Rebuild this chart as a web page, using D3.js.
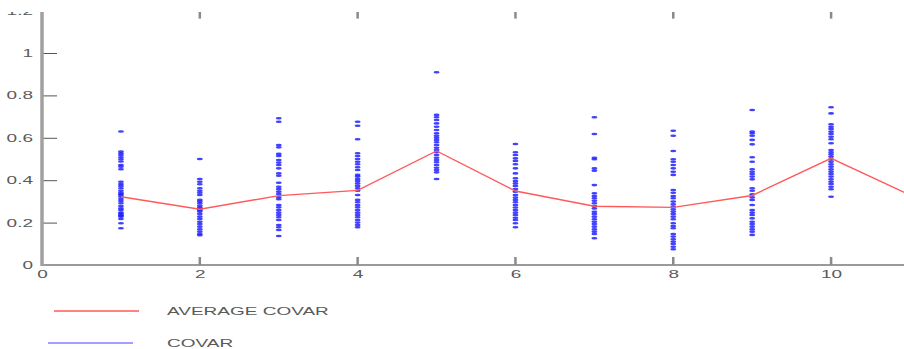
<!DOCTYPE html>
<html>
<head>
<meta charset="utf-8">
<script src="https://cdn.jsdelivr.net/npm/d3@7"></script>
<style>
  html, body { margin: 0; padding: 0; background: #fff; overflow: hidden; }
  text { font-family: "Liberation Sans", Arial, sans-serif; font-size: 10px; fill: #5a5a5a; }
</style>
</head>
<body>
<script>
// x positions and the average line
const avgX = [1, 2, 3, 4, 5, 6, 7, 8, 9, 10, 11];
const avgValues = [0.322, 0.263, 0.327, 0.352, 0.538, 0.349, 0.277, 0.272, 0.328, 0.503, 0.33];

// individual covar samples for each x
const covar1 = [0.63, 0.535, 0.527, 0.519, 0.508, 0.499, 0.488, 0.472, 0.464, 0.452, 0.393, 0.382, 0.373, 0.362, 0.35, 0.341, 0.335, 0.322, 0.311, 0.302, 0.291, 0.278, 0.267, 0.259, 0.247, 0.236, 0.228, 0.217, 0.197, 0.173, 0.243, 0.232, 0.33];
const covar2 = [0.5, 0.406, 0.393, 0.381, 0.362, 0.35, 0.341, 0.33, 0.307, 0.299, 0.291, 0.28, 0.271, 0.263, 0.252, 0.241, 0.228, 0.217, 0.204, 0.193, 0.181, 0.168, 0.157, 0.146, 0.14, 0.265, 0.258];
const covar3 = [0.692, 0.676, 0.566, 0.555, 0.524, 0.514, 0.495, 0.483, 0.472, 0.456, 0.432, 0.421, 0.388, 0.369, 0.358, 0.346, 0.335, 0.319, 0.31, 0.283, 0.272, 0.259, 0.247, 0.236, 0.225, 0.212, 0.189, 0.178, 0.165, 0.137];
const covar4 = [0.676, 0.657, 0.593, 0.527, 0.514, 0.5, 0.487, 0.475, 0.461, 0.448, 0.425, 0.417, 0.406, 0.396, 0.385, 0.373, 0.362, 0.35, 0.33, 0.307, 0.296, 0.283, 0.272, 0.259, 0.247, 0.236, 0.225, 0.212, 0.2, 0.189, 0.178];
const covar5 = [0.909, 0.708, 0.697, 0.684, 0.668, 0.652, 0.637, 0.621, 0.61, 0.6, 0.59, 0.579, 0.566, 0.553, 0.542, 0.532, 0.519, 0.506, 0.495, 0.485, 0.472, 0.459, 0.448, 0.437, 0.406];
const covar6 = [0.571, 0.532, 0.519, 0.503, 0.491, 0.475, 0.456, 0.432, 0.409, 0.396, 0.385, 0.373, 0.358, 0.346, 0.33, 0.318, 0.307, 0.296, 0.283, 0.271, 0.259, 0.247, 0.236, 0.223, 0.212, 0.197, 0.178];
const covar7 = [0.697, 0.618, 0.506, 0.499, 0.456, 0.445, 0.377, 0.338, 0.325, 0.315, 0.303, 0.291, 0.278, 0.267, 0.251, 0.241, 0.228, 0.216, 0.204, 0.193, 0.181, 0.168, 0.157, 0.146, 0.126];
const covar8 = [0.633, 0.61, 0.538, 0.499, 0.487, 0.472, 0.456, 0.44, 0.425, 0.354, 0.341, 0.325, 0.315, 0.299, 0.286, 0.275, 0.263, 0.252, 0.241, 0.228, 0.216, 0.197, 0.184, 0.173, 0.146, 0.134, 0.121, 0.11, 0.099, 0.086, 0.074];
const covar9 = [0.731, 0.629, 0.621, 0.61, 0.59, 0.569, 0.508, 0.487, 0.452, 0.44, 0.429, 0.417, 0.404, 0.362, 0.35, 0.333, 0.319, 0.307, 0.283, 0.259, 0.247, 0.236, 0.22, 0.204, 0.193, 0.181, 0.168, 0.157, 0.142];
const covar10 = [0.744, 0.715, 0.664, 0.652, 0.642, 0.629, 0.618, 0.605, 0.593, 0.574, 0.542, 0.532, 0.522, 0.511, 0.498, 0.487, 0.475, 0.464, 0.451, 0.44, 0.429, 0.417, 0.404, 0.393, 0.382, 0.369, 0.357, 0.322];
const covarColumns = [covar1, covar2, covar3, covar4, covar5, covar6, covar7, covar8, covar9, covar10];

const xTicks = [0, 2, 4, 6, 8, 10];
const yTicks = [0, 0.2, 0.4, 0.6, 0.8, 1, 1.2];
const legendLabels = ['AVERAGE COVAR', 'COVAR'];

const width = 904, height = 349;
const stretch = 1.9; // the picture is stretched horizontally

const svg = d3.select('body').append('svg')
    .attr('width', width)
    .attr('height', height);

const x = d3.scaleLinear().domain([0, 11]).range([42, 910]);
const y = d3.scaleLinear().domain([0, 1.2]).range([265, 10.6]);

// Flatten the columns into points
const points = [];
covarColumns.forEach((col, i) => {
    col.forEach(v => points.push({ x: i + 1, v: v }));
});

// Blue sample marks
svg.append('g')
    .selectAll('ellipse')
    .data(points)
    .enter().append('ellipse')
    .attr('cx', d => x(d.x))
    .attr('cy', d => y(d.v))
    .attr('rx', 3)
    .attr('ry', 1.3)
    .attr('fill', '#2020ff')
    .attr('opacity', 0.85);

// Red average line
const line = d3.line()
    .x((d, i) => x(avgX[i]))
    .y(d => y(d));
svg.append('path')
    .datum(avgValues)
    .attr('d', line)
    .attr('fill', 'none')
    .attr('stroke', '#ff5a5a')
    .attr('stroke-width', 1.4);

// Bottom axis
const xAxis = svg.append('g')
    .attr('transform', `translate(0,${y(0)})`)
    .call(d3.axisBottom(x).tickValues(xTicks).tickSize(0).tickPadding(0).tickFormat(String));
xAxis.select('.domain').remove();
xAxis.selectAll('text')
    .attr('y', 0).attr('dy', 0)
    .attr('transform', `translate(0,13) scale(${stretch},1)`);

svg.append('line')
    .attr('x1', x(0)).attr('x2', width)
    .attr('y1', y(0)).attr('y2', y(0))
    .attr('stroke', '#9a9a9a')
    .attr('stroke-width', 2);

// Tick marks on bottom and top, pointing inward
const inner = xTicks.filter(d => d > 0);
svg.append('g').selectAll('line')
    .data(inner)
    .enter().append('line')
    .attr('x1', d => x(d)).attr('x2', d => x(d))
    .attr('y1', y(0)).attr('y2', y(0) - 8)
    .attr('stroke', '#8a8a8a')
    .attr('stroke-width', 2.5);
svg.append('g').selectAll('line')
    .data(inner)
    .enter().append('line')
    .attr('x1', d => x(d)).attr('x2', d => x(d))
    .attr('y1', y(1.2)).attr('y2', y(1.2) + 8)
    .attr('stroke', '#8a8a8a')
    .attr('stroke-width', 2.5);

// Left axis
const yAxis = svg.append('g')
    .attr('transform', `translate(${x(0)},0)`)
    .call(d3.axisLeft(y).tickValues(yTicks).tickSize(0).tickPadding(0).tickFormat(String));
yAxis.select('.domain').remove();
yAxis.selectAll('text')
    .attr('x', 0).attr('dy', '0.35em')
    .attr('text-anchor', 'end')
    .attr('transform', `translate(-9,0) scale(${stretch},1)`);
yAxis.selectAll('.tick').filter(d => d > 0).append('line')
    .attr('x1', 0).attr('x2', 15)
    .attr('stroke', '#555')
    .attr('stroke-width', 1);

svg.append('line')
    .attr('x1', x(0)).attr('x2', x(0))
    .attr('y1', y(1.2)).attr('y2', y(0) + 1)
    .attr('stroke', '#a0a0a0')
    .attr('stroke-width', 3.5);

// The source picture is cut off at the top
svg.append('rect')
    .attr('x', 0).attr('y', 0)
    .attr('width', width).attr('height', 12)
    .attr('fill', '#fff');

// Legend
const legendColors = ['#ff5a5a', '#8080ff'];
const legend = svg.append('g').selectAll('g')
    .data(legendLabels)
    .enter().append('g')
    .attr('transform', (d, i) => `translate(0,${311 + i * 32})`);
legend.append('line')
    .attr('x1', (d, i) => i === 0 ? 54 : 48)
    .attr('x2', (d, i) => i === 0 ? 139 : 133)
    .attr('stroke', (d, i) => legendColors[i])
    .attr('stroke-width', 1.3);
legend.append('text')
    .attr('dy', '0.35em')
    .attr('transform', `translate(167,0) scale(${stretch},1)`)
    .text(d => d);
</script>
</body>
</html>
